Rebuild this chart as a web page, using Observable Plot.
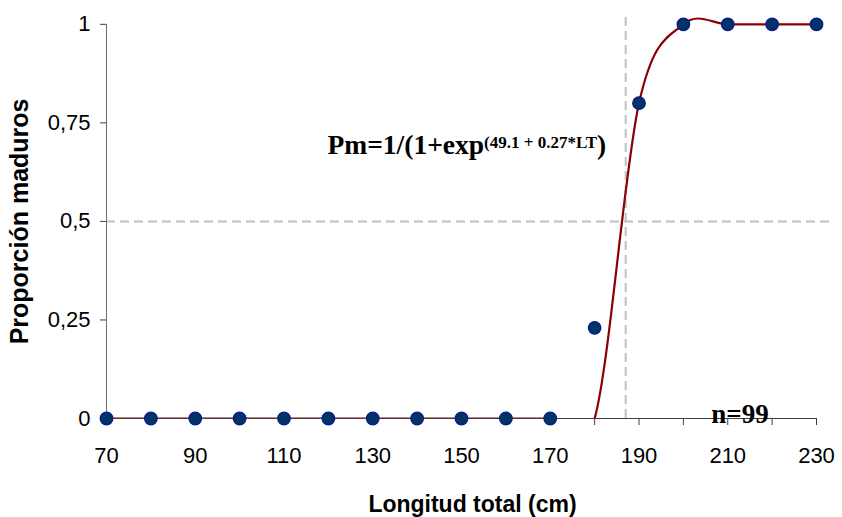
<!DOCTYPE html>
<html>
<head>
<meta charset="utf-8">
<script src="https://cdn.jsdelivr.net/npm/d3@7"></script>
<script src="https://cdn.jsdelivr.net/npm/@observablehq/plot@0.6"></script>
<style>
  html, body { margin: 0; padding: 0; background: #fff; }
  #chart { width: 842px; height: 517px; }
</style>
</head>
<body>
<div id="chart"></div>
<script>
// ---- data ----
const lengths   = [70, 80, 90, 100, 110, 120, 130, 140, 150, 160, 170, 180, 190, 200, 210, 220, 230];
const observed  = [0, 0, 0, 0, 0, 0, 0, 0, 0, 0, 0, 0.23, 0.8, 1, 1, 1, 1];
const fitted    = [0, 0, 0, 0, 0, 0, 0, 0, 0, 0, 0, 0, 0.8, 1, 1, 1, 1];
const xTickMarks  = [70, 80, 90, 100, 110, 120, 130, 140, 150, 160, 170, 180, 190, 200, 210, 220, 230];
const xTickLabels = [70, 90, 110, 130, 150, 170, 190, 210, 230];
const yTicks      = [0, 0.25, 0.5, 0.75, 1];
const yTickLabels = ["0", "0,25", "0,5", "0,75", "1"];
const l50 = 187;          // vertical reference (length at 50% maturity)
const half = 0.5;         // horizontal reference
const nLabel = "n=99";
const eqMain = "Pm=1/(1+exp";
const eqSup = "(49.1 + 0.27*LT";
const eqClose = ")";
const xTitle = "Longitud total (cm)";
const yTitle = "Proporción maduros";

const obsData = lengths.map((x, i) => ({x, y: observed[i]}));
const fitData = lengths.map((x, i) => ({x, y: fitted[i]}));

const sans = "'Liberation Sans', Arial, sans-serif";
const serif = "'Liberation Serif', 'Times New Roman', serif";

const chart = Plot.plot({
  width: 842,
  height: 517,
  marginLeft: 106,
  marginRight: 26,
  marginTop: 12,
  marginBottom: 99,
  style: {background: "#fff", fontFamily: sans, overflow: "visible"},
  x: {domain: [lengths[0], lengths[lengths.length - 1]], axis: null},
  y: {domain: [0, 1.03], axis: null},
  marks: [
    // reference dashed lines
    Plot.ruleY([half], {x1: lengths[0], x2: 233.5, stroke: "#c0c0c0", strokeWidth: 2, strokeDasharray: "9,5"}),
    Plot.ruleX([l50], {y1: 0, y2: 1.02, stroke: "#c0c0c0", strokeWidth: 2, strokeDasharray: "9,5"}),
    // axes lines
    Plot.ruleX([xTickMarks[0]], {y1: 0, y2: yTicks[yTicks.length - 1], stroke: "#6e6e6e", strokeWidth: 1}),
    Plot.ruleY([0], {stroke: "#404040", strokeWidth: 1}),
    // x ticks
    Plot.axisX({ticks: xTickMarks, tickFormat: () => "", tickSize: 7, stroke: "#404040", label: null}),
    Plot.axisX({ticks: xTickLabels, tickSize: 0, tickPadding: 29, fontSize: 22, fill: "#000", label: null}),
    // y ticks
    Plot.axisY({ticks: yTicks, tickFormat: (d) => yTickLabels[yTicks.indexOf(d)], tickSize: 6, tickPadding: 10, fontSize: 22, stroke: "#404040", fill: "#000", label: null}),
    // fitted curve
    Plot.line(fitData, {x: "x", y: "y", curve: "cardinal", tension: 0, stroke: "#8b0000", strokeWidth: 2.2, clip: true}),
    // observed points
    Plot.dot(obsData, {x: "x", y: "y", r: 6.3, fill: "#003366", stroke: "#0a1a8a", strokeWidth: 1.2}),
    // annotations
    Plot.text([eqMain], {x: 119.8, y: 0.672, text: (d) => d, textAnchor: "start", lineAnchor: "bottom", fontSize: 27.5, fontWeight: "bold", fontFamily: serif, fill: "#000", className: "eq"}),
    Plot.text([nLabel], {x: 206.3, y: 0, dy: 4, text: (d) => d, textAnchor: "start", lineAnchor: "bottom", fontSize: 27, fontWeight: "bold", fontFamily: serif, fill: "#000"}),
    // axis titles
    Plot.text([xTitle], {frameAnchor: "bottom", dx: 11, dy: 93, text: (d) => d, lineAnchor: "bottom", fontSize: 23, fontWeight: "bold", fontFamily: sans, fill: "#000"}),
    Plot.text([yTitle], {x: 50.5, y: 0.5, text: (d) => d, rotate: -90, fontSize: 25, fontWeight: "bold", fontFamily: sans, fill: "#000"})
  ]
});

// superscript exponent and closing parenthesis within the same text element
const eqText = d3.select(chart).select("g.eq text");
eqText.append("tspan").attr("font-size", 17).attr("dy", -6).text(eqSup);
eqText.append("tspan").attr("font-size", 27.5).attr("dy", 6).text(eqClose);

document.getElementById("chart").appendChild(chart);
</script>
</body>
</html>
